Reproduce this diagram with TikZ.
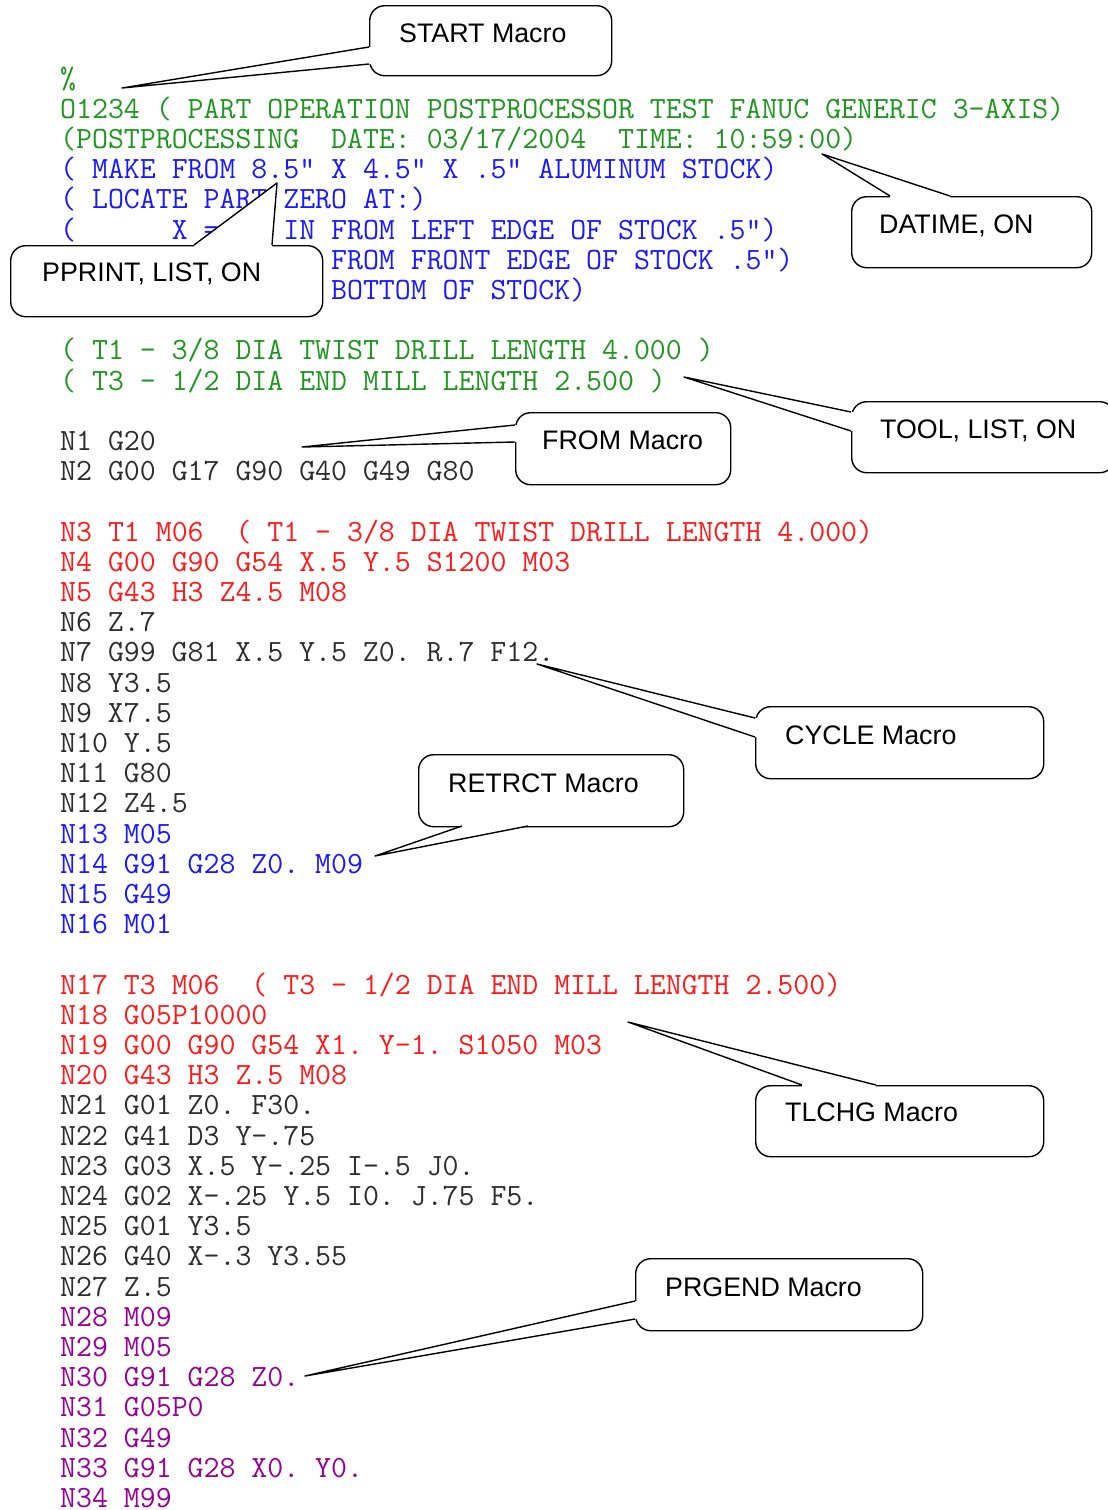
\documentclass[tikz,border=0pt]{standalone}
\usepackage{fontspec}
\setmainfont{Liberation Sans}
\usetikzlibrary{calc}
\definecolor{cgreen}{RGB}{30,150,30}
\definecolor{cblue}{RGB}{25,25,255}
\definecolor{cred}{RGB}{255,25,25}
\definecolor{cpurple}{RGB}{150,0,150}
\definecolor{cblack}{RGB}{45,45,45}
\newcommand\mypointer[5]{%
  \fill[white] ($(#1)+(#4,#5)$) -- (#1) -- (#2) -- (#3) -- ($(#3)+(#4,#5)$) -- cycle;
  \draw[cline] (#1) -- (#2) -- (#3);}
\begin{document}
\begin{tikzpicture}[x=1pt,y=-1pt,
  codeline/.style={anchor=base west,inner sep=0pt,font=\ttfamily\fontsize{30.95}{32}\selectfont\frenchspacing},
  cbox/.style={draw=black,line width=1.4pt,fill=white,rounded corners=15pt,inner sep=0pt,anchor=north west},
  ctext/.style={anchor=base west,inner sep=0pt,text=black,font=\fontsize{26.8}{30}\selectfont},
  cline/.style={draw=black,line width=1.4pt,line join=round}]
\useasboundingbox (0,0) rectangle (1108,1510);
\clip (0,0) rectangle (1108,1510);
\fill[white] (0,0) rectangle (1108,1510);
% ---------- code lines ----------
\def\bl#1{88+30.2*#1}
\node[codeline,text=cgreen] (l0) at (60,{\bl{0}}) {\%};
\node[codeline,text=cgreen] (l1) at (60,{\bl{1}}) {O1234 ( PART OPERATION POSTPROCESSOR TEST FANUC GENERIC 3-AXIS)};
\node[codeline,text=cgreen] (l2) at (60,{\bl{2}}) {(POSTPROCESSING~~DATE: 03/17/2004~~TIME: 10:59:00)};
\node[codeline,text=cblue] (l3) at (60,{\bl{3}}) {( MAKE FROM 8.5" X 4.5" X .5" ALUMINUM STOCK)};
\node[codeline,text=cblue] (l4) at (60,{\bl{4}}) {( LOCATE PART ZERO AT:)};
\node[codeline,text=cblue] (l5) at (60,{\bl{5}}) {(~~~~~~X~=~~~~IN FROM LEFT EDGE OF STOCK .5")};
\node[codeline,text=cblue] (l6) at (60,{\bl{6}}) {\hphantom{00000000000000000}FROM FRONT EDGE OF STOCK .5")};
\node[codeline,text=cblue] (l7) at (60,{\bl{7}}) {\hphantom{00000000000000000}BOTTOM OF STOCK)};
\node[codeline,text=cgreen] (l9) at (60,{\bl{9}}) {( T1 - 3/8 DIA TWIST DRILL LENGTH 4.000 )};
\node[codeline,text=cgreen] (l10) at (60,{\bl{10}}) {( T3 - 1/2 DIA END MILL LENGTH 2.500 )};
\node[codeline,text=cblack] (l12) at (60,{\bl{12}}) {N1 G20};
\node[codeline,text=cblack] (l13) at (60,{\bl{13}}) {N2 G00 G17 G90 G40 G49 G80};
\node[codeline,text=cred] (l15) at (60,{\bl{15}}) {N3 T1 M06~~( T1 - 3/8 DIA TWIST DRILL LENGTH 4.000)};
\node[codeline,text=cred] (l16) at (60,{\bl{16}}) {N4 G00 G90 G54 X.5 Y.5 S1200 M03};
\node[codeline,text=cred] (l17) at (60,{\bl{17}}) {N5 G43 H3 Z4.5 M08};
\node[codeline,text=cblack] (l18) at (60,{\bl{18}}) {N6 Z.7};
\node[codeline,text=cblack] (l19) at (60,{\bl{19}}) {N7 G99 G81 X.5 Y.5 Z0. R.7 F12.};
\node[codeline,text=cblack] (l20) at (60,{\bl{20}}) {N8 Y3.5};
\node[codeline,text=cblack] (l21) at (60,{\bl{21}}) {N9 X7.5};
\node[codeline,text=cblack] (l22) at (60,{\bl{22}}) {N10 Y.5};
\node[codeline,text=cblack] (l23) at (60,{\bl{23}}) {N11 G80};
\node[codeline,text=cblack] (l24) at (60,{\bl{24}}) {N12 Z4.5};
\node[codeline,text=cblue] (l25) at (60,{\bl{25}}) {N13 M05};
\node[codeline,text=cblue] (l26) at (60,{\bl{26}}) {N14 G91 G28 Z0. M09};
\node[codeline,text=cblue] (l27) at (60,{\bl{27}}) {N15 G49};
\node[codeline,text=cblue] (l28) at (60,{\bl{28}}) {N16 M01};
\node[codeline,text=cred] (l30) at (60,{\bl{30}}) {N17 T3 M06~~( T3 - 1/2 DIA END MILL LENGTH 2.500)};
\node[codeline,text=cred] (l31) at (60,{\bl{31}}) {N18 G05P10000};
\node[codeline,text=cred] (l32) at (60,{\bl{32}}) {N19 G00 G90 G54 X1. Y-1. S1050 M03};
\node[codeline,text=cred] (l33) at (60,{\bl{33}}) {N20 G43 H3 Z.5 M08};
\node[codeline,text=cblack] (l34) at (60,{\bl{34}}) {N21 G01 Z0. F30.};
\node[codeline,text=cblack] (l35) at (60,{\bl{35}}) {N22 G41 D3 Y-.75};
\node[codeline,text=cblack] (l36) at (60,{\bl{36}}) {N23 G03 X.5 Y-.25 I-.5 J0.};
\node[codeline,text=cblack] (l37) at (60,{\bl{37}}) {N24 G02 X-.25 Y.5 I0. J.75 F5.};
\node[codeline,text=cblack] (l38) at (60,{\bl{38}}) {N25 G01 Y3.5};
\node[codeline,text=cblack] (l39) at (60,{\bl{39}}) {N26 G40 X-.3 Y3.55};
\node[codeline,text=cblack] (l40) at (60,{\bl{40}}) {N27 Z.5};
\node[codeline,text=cpurple] (l41) at (60,{\bl{41}}) {N28 M09};
\node[codeline,text=cpurple] (l42) at (60,{\bl{42}}) {N29 M05};
\node[codeline,text=cpurple] (l43) at (60,{\bl{43}}) {N30 G91 G28 Z0.};
\node[codeline,text=cpurple] (l44) at (60,{\bl{44}}) {N31 G05P0};
\node[codeline,text=cpurple] (l45) at (60,{\bl{45}}) {N32 G49};
\node[codeline,text=cpurple] (l46) at (60,{\bl{46}}) {N33 G91 G28 X0. Y0.};
\node[codeline,text=cpurple] (l47) at (60,{\bl{47}}) {N34 M99};
% ---------- callout boxes ----------
\node[cbox,minimum width=242pt,minimum height=70pt] (startbox) at (369,5) {};
\node[cbox,minimum width=312pt,minimum height=71pt] (pprintbox) at (10,245) {};
\node[cbox,minimum width=240pt,minimum height=71pt] (datimebox) at (851,196) {};
\node[cbox,minimum width=263pt,minimum height=71pt] (toolbox) at (851,401) {};
\node[cbox,minimum width=215pt,minimum height=72pt] (frombox) at (515,412) {};
\node[cbox,minimum width=288pt,minimum height=72pt] (cyclebox) at (755,706) {};
\node[cbox,minimum width=265pt,minimum height=72pt] (retrctbox) at (418,754) {};
\node[cbox,minimum width=288pt,minimum height=71pt] (tlchgbox) at (755,1085) {};
\node[cbox,minimum width=287pt,minimum height=72pt] (prgendbox) at (635,1258) {};
% ---------- pointer coordinates ----------
\coordinate (startb1) at (369,47);  \coordinate (starttip) at (122,88);  \coordinate (startb2) at (369,64);
\coordinate (pprintb1) at (194,245); \coordinate (pprinttip) at (277,183); \coordinate (pprintb2) at (272,245);
\coordinate (datimeb1) at (890,196); \coordinate (datimetip) at (822,154); \coordinate (datimeb2) at (950,196);
\coordinate (toolb1) at (851,412);  \coordinate (tooltip) at (684,377);  \coordinate (toolb2) at (851,431);
\coordinate (fromb1) at (515,425);  \coordinate (fromtip) at (302,447);  \coordinate (fromb2) at (515,442);
\coordinate (cycleb1) at (755,718); \coordinate (cycletip) at (537,664); \coordinate (cycleb2) at (755,737);
\coordinate (retrctb1) at (462,826); \coordinate (retrcttip) at (375,856); \coordinate (retrctb2) at (528,826);
\coordinate (tlchgb1) at (802,1085); \coordinate (tlchgtip) at (628,1022); \coordinate (tlchgb2) at (876,1085);
\coordinate (prgendb1) at (635,1301); \coordinate (prgendtip) at (305,1376); \coordinate (prgendb2) at (635,1319);
% ---------- pointers ----------
\mypointer{startb1}{starttip}{startb2}{3}{0}
\mypointer{pprintb1}{pprinttip}{pprintb2}{0}{3}
\mypointer{datimeb1}{datimetip}{datimeb2}{0}{3}
\mypointer{toolb1}{tooltip}{toolb2}{3}{0}
\mypointer{fromb1}{fromtip}{fromb2}{3}{0}
\mypointer{cycleb1}{cycletip}{cycleb2}{3}{0}
\mypointer{retrctb1}{retrcttip}{retrctb2}{0}{-3}
\mypointer{tlchgb1}{tlchgtip}{tlchgb2}{0}{3}
\mypointer{prgendb1}{prgendtip}{prgendb2}{3}{0}
% ---------- callout labels ----------
\node[ctext] (startlbl) at (399,42) {START Macro};
\node[ctext] (pprintlbl) at (42,281) {PPRINT, LIST, ON};
\node[ctext] (datimelbl) at (879,233) {DATIME, ON};
\node[ctext] (toollbl) at (880,438) {TOOL, LIST, ON};
\node[ctext] (fromlbl) at (542,449) {FROM Macro};
\node[ctext] (cyclelbl) at (785,744) {CYCLE Macro};
\node[ctext] (retrctlbl) at (448,792) {RETRCT Macro};
\node[ctext] (tlchglbl) at (785,1121) {TLCHG Macro};
\node[ctext] (prgendlbl) at (665,1296) {PRGEND Macro};
\end{tikzpicture}
\end{document}
